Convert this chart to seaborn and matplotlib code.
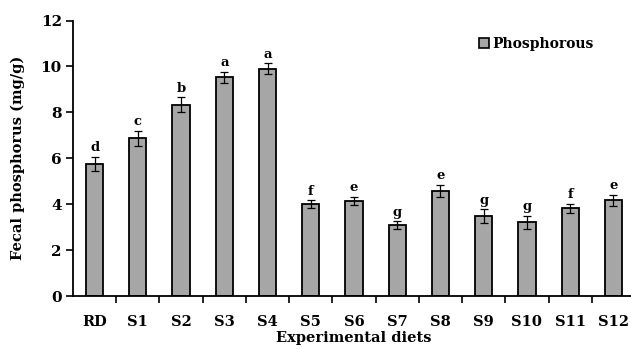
import matplotlib
matplotlib.use("Agg")
import matplotlib.pyplot as plt
import seaborn as sns
import pandas as pd
from matplotlib.patches import Patch
from matplotlib.ticker import FixedLocator

diets = ["RD", "S1", "S2", "S3", "S4", "S5", "S6", "S7", "S8", "S9", "S10", "S11", "S12"]
phosphorus = [5.75, 6.87, 8.33, 9.52, 9.90, 4.01, 4.14, 3.09, 4.59, 3.47, 3.21, 3.82, 4.17]
errors = [0.30, 0.32, 0.32, 0.25, 0.23, 0.16, 0.19, 0.16, 0.26, 0.30, 0.27, 0.20, 0.24]
letters = ["d", "c", "b", "a", "a", "f", "e", "g", "e", "g", "g", "f", "e"]

df = pd.DataFrame({"diet": diets, "value": phosphorus, "err": errors})

sns.set_style("white")
plt.rcParams["font.family"] = ["DejaVu Serif"]
plt.rcParams["font.weight"] = "bold"
plt.rcParams["text.color"] = "black"
plt.rcParams["axes.labelcolor"] = "black"
plt.rcParams["xtick.color"] = "black"
plt.rcParams["ytick.color"] = "black"

fig = plt.figure(figsize=(6.31, 3.49), dpi=100)
ax = fig.add_axes([73 / 631, 53 / 349, 562 / 631, 275.5 / 349])

bar_color = "#a6a6a6"
sns.barplot(data=df, x="diet", y="value", color=bar_color, edgecolor="black",
            linewidth=1.3, width=0.4, errorbar=None, saturation=1, ax=ax)

ax.errorbar(range(len(diets)), df["value"], yerr=df["err"], fmt="none",
            ecolor="black", elinewidth=0.9, capsize=3, capthick=0.9)

for i, (v, e, t) in enumerate(zip(phosphorus, errors, letters)):
    ax.text(i, v + e + 0.12, t, ha="center", va="bottom",
            fontsize=9.5, fontweight="bold", color="black")

ax.set_xlim(-0.5, len(diets) - 0.5)
ax.set_ylim(0, 12)
ax.set_yticks(range(0, 13, 2))
ax.tick_params(axis="y", direction="out", length=5, width=1.2, left=True,
               labelsize=11, pad=3, colors="black")
ax.tick_params(axis="x", which="major", length=0, labelsize=10.5, pad=14, colors="black")
ax.xaxis.set_minor_locator(FixedLocator([i + 0.5 for i in range(len(diets))]))
ax.tick_params(axis="x", which="minor", direction="out", length=5, width=1.2,
               bottom=True, colors="black")
for lbl in ax.get_xticklabels() + ax.get_yticklabels():
    lbl.set_fontweight("bold")

for side in ["top", "right"]:
    ax.spines[side].set_visible(False)
for side in ["left", "bottom"]:
    ax.spines[side].set_color("black")
    ax.spines[side].set_linewidth(1.3)

ax.set_xlabel("Experimental diets", fontsize=10.5, fontweight="bold", labelpad=1)
ax.set_ylabel("Fecal phosphorus (mg/g)", fontsize=10.5, fontweight="bold", labelpad=11)

handle = Patch(facecolor=bar_color, edgecolor="black", linewidth=1.2, label="Phosphorous")
ax.legend(handles=[handle], loc="upper left", bbox_to_anchor=(0.70, 0.985),
          frameon=False, handlelength=0.7, handleheight=0.7,
          handletextpad=0.3, prop={"weight": "bold", "size": 10})

fig.savefig("out.png", dpi=100)
